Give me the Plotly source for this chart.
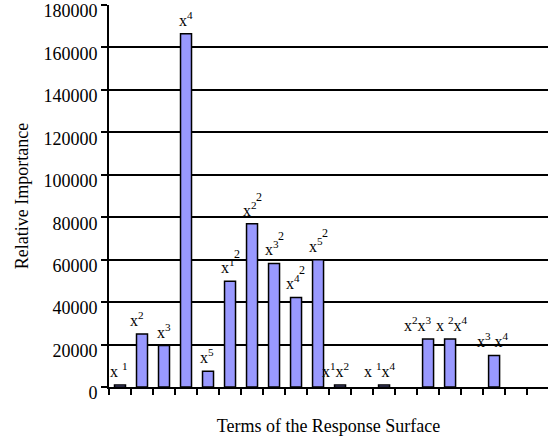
import plotly.graph_objects as go

# ---- data ----
terms = ["x1", "x2", "x3", "x4", "x5",
         "x1^2", "x2^2", "x3^2", "x4^2", "x5^2",
         "x1x2", "x1x3", "x1x4", "x1x5", "x2x3",
         "x2x4", "x2x5", "x3x4", "x3x5", "x4x5"]
importance = [1000, 25000, 19500, 166500, 7400,
              49800, 76900, 58200, 42200, 60000,
              1000, 0, 1000, 0, 22600,
              22600, 0, 14900, 0, 0]
bar_labels = ["x <sup>1</sup>", "x<sup>2</sup>", "x<sup>3</sup>", "x<sup>4</sup>", "x<sup>5</sup>",
              "x<sup>1</sup>", "x<sup>2</sup>", "x<sup>3</sup>", "x<sup>4</sup>", "x<sup>5</sup>",
              "x<sup>1</sup>x<sup>2</sup>", "", "x <sup>1</sup>x<sup>4</sup>", "", "x<sup>2</sup>x<sup>3</sup>",
              "x <sup>2</sup>x<sup>4</sup>", "", "x<sup>3</sup> x<sup>4</sup>", "", ""]
label_power = ["", "", "", "", "",
               "2", "2", "2", "2", "2",
               "", "", "", "", "",
               "", "", "", "", ""]
y_ticks = [0, 20000, 40000, 60000, 80000, 100000, 120000, 140000, 160000, 180000]

# ---- style (label nudges in px) ----
label_dx = [-1, -5, 0, 0, -1, -2, -2, -2, -3, -2, -5, 0, -4, 0, -10, 2, 0, -1, 0, 0]
FONT = "Liberation Serif, Times New Roman, serif"

fig = go.Figure()
fig.add_trace(go.Bar(
    x=terms, y=[v if v > 0 else None for v in importance], width=0.5,
    marker=dict(color="#9999FF", line=dict(color="black", width=1.5)),
    showlegend=False, hoverinfo="skip",
))

annotations = []
for i, (t, v, lab, pw) in enumerate(zip(terms, importance, bar_labels, label_power)):
    if lab:
        annotations.append(dict(x=t, y=v, text=lab, showarrow=False, xanchor="center",
                                yanchor="bottom", yshift=3, xshift=label_dx[i],
                                font=dict(family=FONT, size=16, color="black")))
    if pw:
        annotations.append(dict(x=t, y=v, text=pw, showarrow=False, xanchor="center",
                                yanchor="bottom", yshift=18, xshift=label_dx[i] + 9,
                                font=dict(family=FONT, size=12, color="black")))

fig.update_layout(
    width=548, height=438,
    margin=dict(l=109, r=0, t=5, b=51),
    paper_bgcolor="white", plot_bgcolor="white",
    font=dict(family=FONT, size=18, color="black"),
    annotations=annotations,
    xaxis=dict(
        type="category", range=[-0.5, 19.45], automargin=False,
        showticklabels=False, tickson="boundaries", ticks="outside", ticklen=6,
        tickwidth=1.5, tickcolor="black",
        showline=True, linecolor="black", linewidth=2, showgrid=False,
        title=dict(text="Terms of the Response Surface", font=dict(size=18), standoff=31),
    ),
    yaxis=dict(
        range=[0, 180000.5], tickvals=y_ticks, ticktext=[str(v) for v in y_ticks],
        automargin=False, ticklabelshift=6,
        ticks="outside", ticklen=6, tickwidth=1.5, tickcolor="black",
        showline=True, linecolor="black", linewidth=2,
        showgrid=True, gridcolor="black", gridwidth=1.5, zeroline=False,
        tickfont=dict(size=18),
        title=dict(text="Relative Importance", font=dict(size=18), standoff=10),
    ),
)

fig.write_html("out.html", config={"displayModeBar": False},
               post_script="document.body.style.margin='0';document.body.style.overflow='hidden';")
